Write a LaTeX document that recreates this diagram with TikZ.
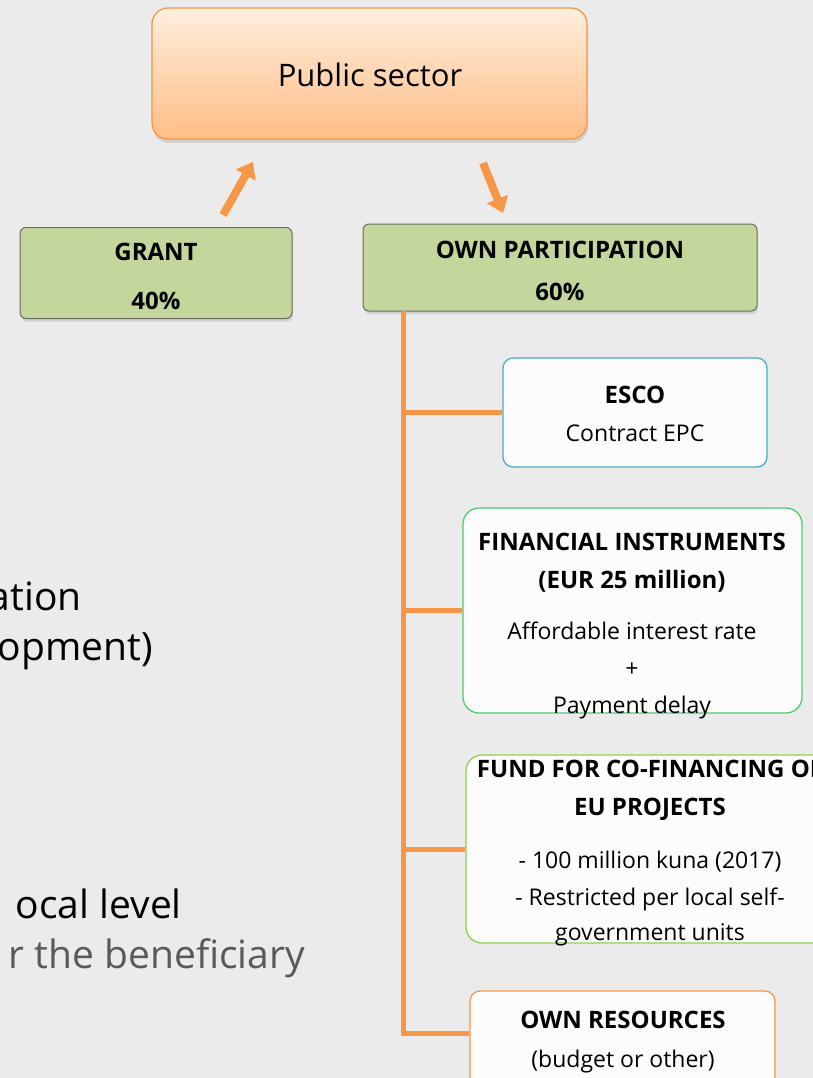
\documentclass[tikz,border=0pt]{standalone}
\usepackage{fontspec}
\setmainfont{Open Sans}
\usetikzlibrary{arrows.meta,shadows}
\definecolor{bg}{RGB}{235,235,235}
\definecolor{orng}{RGB}{247,150,70}
\definecolor{pubtop}{RGB}{255,238,222}
\definecolor{pubbot}{RGB}{255,190,134}
\definecolor{grfill}{RGB}{195,214,155}
\definecolor{grline}{RGB}{105,110,95}
\definecolor{escol}{RGB}{75,172,198}
\definecolor{finl}{RGB}{78,205,110}
\definecolor{fundl}{RGB}{146,208,80}
\definecolor{boxw}{RGB}{252,252,252}
\definecolor{greytext}{RGB}{89,89,89}
\tikzset{
  shapebox/.style={rectangle, inner sep=0pt, line width=1.3pt, fill=boxw},
  greenbox/.style={rectangle, inner sep=0pt, rounded corners=6pt, fill=grfill, draw=grline, line width=1pt,
     drop shadow={shadow xshift=1pt, shadow yshift=-3pt, opacity=0.25}},
  hdr/.style={inner sep=0pt, anchor=base, font=\fontsize{24}{28}\selectfont\bfseries},
  body/.style={inner sep=0pt, anchor=base, font=\fontsize{23}{27}\selectfont},
  side/.style={inner sep=0pt, anchor=base east, font=\fontsize{39}{46}\selectfont},
  conn/.style={draw=orng, line width=5pt, line join=miter},
  bigarrow/.style={draw=orng, line width=8pt, -{Triangle[length=15pt,width=22pt]}}
}
\begin{document}
\begin{tikzpicture}[x=1pt,y=-1pt]
\useasboundingbox (0,0) rectangle (813,1078);
\fill[bg] (0,0) rectangle (813,1078);
\begin{scope}
\clip (0,0) rectangle (813,1078);

% side texts (partly hidden slide text)
\node[side] (s1) at (82,610) {ation};
\node[side] (s2) at (153,660) {opment)};
\node[side] (s3) at (182,918) {ocal level};
\node[side, text=greytext] (s4) at (305,968) {r the beneficiary};

% public sector
\node[rectangle, rounded corners=16pt, minimum width=435pt, minimum height=131pt,
      top color=pubtop, bottom color=pubbot, draw=orng, line width=1.3pt,
      drop shadow={shadow xshift=1pt, shadow yshift=-4pt, opacity=0.25}] (pub) at (369.5,73.5) {};
\node[inner sep=0pt, anchor=base, font=\fontsize{31}{37}\selectfont] (pubt) at (370,87) {Public sector};

% grant and own participation
\node[greenbox, minimum width=272pt, minimum height=91pt] (grant) at (156,273) {};
\node[hdr] (grant1) at (156,260) {GRANT};
\node[hdr] (grant2) at (156,309) {40\%};

\node[greenbox, minimum width=394pt, minimum height=87pt] (own) at (560,267.5) {};
\node[hdr] (own1) at (560,258) {OWN PARTICIPATION};
\node[hdr] (own2) at (560,300) {60\%};

% arrows
\coordinate (a1s) at (223,215);
\coordinate (a1e) at (253,162);
\coordinate (a2s) at (483,163);
\coordinate (a2e) at (503,213);
\draw[bigarrow] (a1s) -- (a1e);
\draw[bigarrow] (a2s) -- (a2e);

% right boxes
\node[shapebox, rounded corners=10pt, draw=escol, minimum width=264pt, minimum height=109pt] (esco) at (635,412.5) {};
\node[hdr] (esco1) at (635,403) {ESCO};
\node[body] (esco2) at (635,441) {Contract EPC};

\node[shapebox, rounded corners=16pt, draw=finl, minimum width=339pt, minimum height=205pt] (fin) at (632.5,610.5) {};
\node[hdr] (fin1) at (632,550) {FINANCIAL INSTRUMENTS};
\node[hdr] (fin2) at (632,588) {(EUR 25 million)};
\node[body] (fin3) at (632,639) {Affordable interest rate};
\node[body] (fin4) at (632,676) {+};
\node[body] (fin5) at (632,713) {Payment delay};

\node[shapebox, rounded corners=16pt, draw=fundl, minimum width=368pt, minimum height=188pt] (fund) at (650,849) {};
\node[hdr] (fund1) at (650,777) {FUND FOR CO-FINANCING OF};
\node[hdr] (fund2) at (650,815) {EU PROJECTS};
\node[body] (fund3) at (650,868) {- 100 million kuna (2017)};
\node[body] (fund4) at (650,905) {- Restricted per local self-};
\node[body] (fund5) at (650,940) {government units};

\node[shapebox, rounded corners=10pt, draw=orng, minimum width=305pt, minimum height=100pt] (res) at (622.5,1041) {};
\node[hdr] (res1) at (623,1028) {OWN RESOURCES};
\node[body] (res2) at (623,1067) {(budget or other)};

% connectors
\coordinate (t0) at (403,311);
\coordinate (t1) at (403,1033);
\draw[conn] (t0) -- (t1) -- (t1 -| res.west);
\draw[conn] (t0 |- esco.west) -- (esco.west);
\draw[conn] (t0 |- fin.west) -- (fin.west);
\draw[conn] (t0 |- fund.west) -- (fund.west);
\end{scope}
\end{tikzpicture}
\end{document}
